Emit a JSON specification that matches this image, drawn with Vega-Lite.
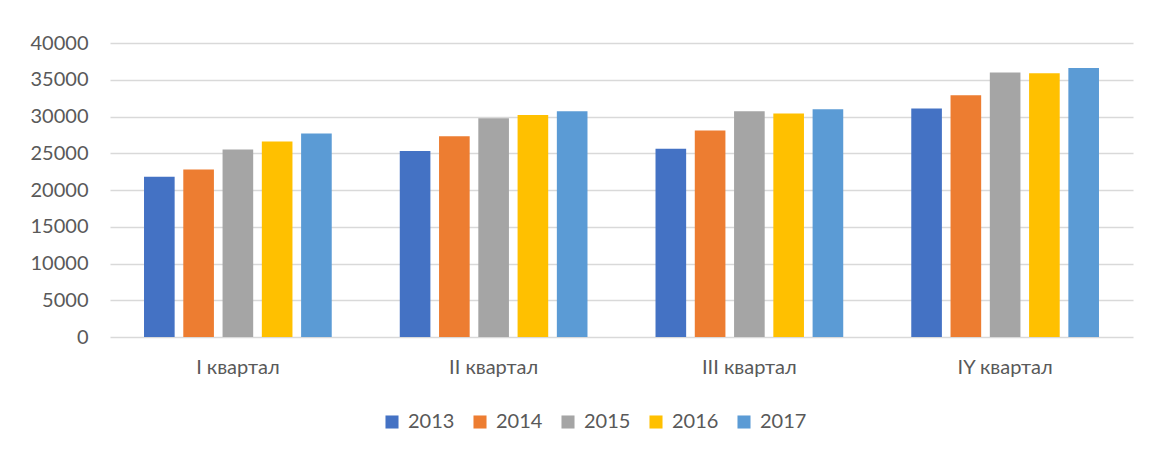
{
  "$schema": "https://vega.github.io/schema/vega-lite/v6.json",
  "autosize": {"type": "none"},
  "width": 1023,
  "height": 294,
  "padding": {"left": 110, "top": 43, "right": 16, "bottom": 113},
  "background": "white",
  "data": {
    "values": [
      {"q": "I квартал", "year": "2013", "v": 21800},
      {"q": "I квартал", "year": "2014", "v": 22800},
      {"q": "I квартал", "year": "2015", "v": 25500},
      {"q": "I квартал", "year": "2016", "v": 26600},
      {"q": "I квартал", "year": "2017", "v": 27700},
      {"q": "II квартал", "year": "2013", "v": 25300},
      {"q": "II квартал", "year": "2014", "v": 27300},
      {"q": "II квартал", "year": "2015", "v": 29750},
      {"q": "II квартал", "year": "2016", "v": 30200},
      {"q": "II квартал", "year": "2017", "v": 30700},
      {"q": "III квартал", "year": "2013", "v": 25600},
      {"q": "III квартал", "year": "2014", "v": 28100},
      {"q": "III квартал", "year": "2015", "v": 30700},
      {"q": "III квартал", "year": "2016", "v": 30400},
      {"q": "III квартал", "year": "2017", "v": 31000},
      {"q": "IY квартал", "year": "2013", "v": 31100},
      {"q": "IY квартал", "year": "2014", "v": 32900},
      {"q": "IY квартал", "year": "2015", "v": 36000},
      {"q": "IY квартал", "year": "2016", "v": 35900},
      {"q": "IY квартал", "year": "2017", "v": 36600}
    ]
  },
  "mark": {"type": "bar"},
  "encoding": {
    "x": {
      "field": "q", "type": "nominal", "sort": null, "title": null,
      "scale": {"paddingInner": 0.266, "paddingOuter": 0.133},
      "axis": {"labelAngle": 0, "domain": false, "ticks": false, "grid": false, "labelPadding": 20, "labelFontSize": 20, "labelColor": "#595959", "labelFont": "Lato"}
    },
    "xOffset": {
      "field": "year", "type": "nominal",
      "scale": {"paddingInner": 0.22, "paddingOuter": 0}
    },
    "y": {
      "field": "v", "type": "quantitative", "title": null,
      "scale": {"domain": [0, 40000]},
      "axis": {"values": [0, 5000, 10000, 15000, 20000, 25000, 30000, 35000, 40000], "format": "d", "domain": false, "ticks": false, "labelPadding": 22, "gridColor": "#d9d9d9", "gridWidth": 1.3, "labelFontSize": 20, "labelColor": "#595959", "labelFont": "Lato"}
    },
    "color": {
      "field": "year", "type": "nominal", "title": null,
      "scale": {"domain": ["2013", "2014", "2015", "2016", "2017"], "range": ["#4472C4", "#ED7D31", "#A5A5A5", "#FFC000", "#5B9BD5"]},
      "legend": {"orient": "none", "legendX": 272, "legendY": 369, "direction": "horizontal", "symbolType": "square", "symbolSize": 170, "symbolStrokeWidth": 0, "labelFontSize": 20, "labelColor": "#595959", "labelFont": "Lato", "labelOffset": 6, "columnPadding": 15}
    }
  },
  "config": {
    "view": {"stroke": null}
  }
}
